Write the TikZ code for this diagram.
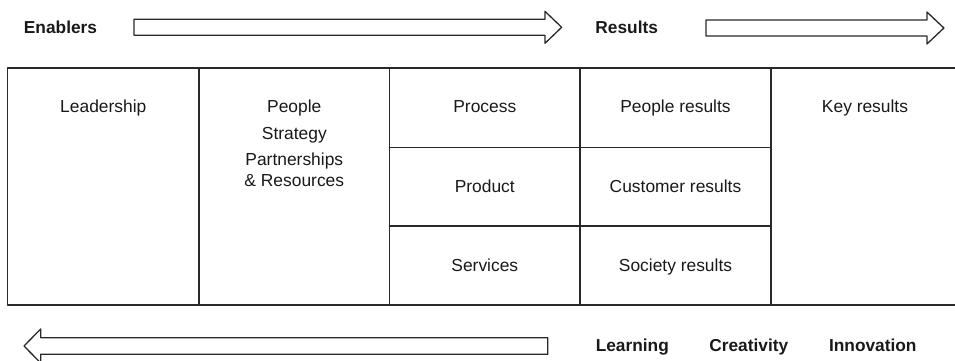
\documentclass[tikz,border=0pt]{standalone}
\usepackage{fontspec}
\setmainfont{Liberation Sans}
\usetikzlibrary{arrows,calc}
\usepackage{tkz-euclide}
\definecolor{LineClr}{rgb}{0.16,0.16,0.16}
\definecolor{TextClr}{rgb}{0.1,0.1,0.1}
\tikzset{
  cell/.style={anchor=base,inner sep=0pt,text=TextClr,font=\fontsize{17.4}{21}\selectfont},
  head/.style={cell,font=\fontsize{17.3}{21}\selectfont\bfseries}
}

\begin{document}
\begin{tikzpicture}[scale=.3514]
\tkzSetUpLine[line width=1.6pt,color=LineClr]

\useasboundingbox (0,0) rectangle (95.5,36.1);
\clip (0,0) rectangle (95.5,36.1);

\tkzDefPoints{0.75/29.3/T1,96/29.3/T2,96/5.6/T3,0.75/5.6/T4}
\tkzDefPoints{19.9/29.3/a1,19.9/5.6/a2,38.95/29.3/b1,38.95/5.6/b2,58/29.3/c1,58/5.6/c2,77.1/29.3/d1,77.1/5.6/d2}
\tkzDefPoints{38.95/21.35/r1,77.1/21.35/r2,38.95/13.5/s1,77.1/13.5/s2}

\tkzDefPoints{13.4/34.17/E1,54.5/34.17/E2,54.5/34.97/E3,56.17/33.37/E4,54.5/31.77/E5,54.5/32.57/E6,13.4/32.57/E7}
\tkzDefPoints{70.6/34.1/K1,92.7/34.1/K2,92.7/34.9/K3,94.4/33.3/K4,92.7/31.7/K5,92.7/32.5/K6,70.6/32.5/K7}
\tkzDefPoints{54.77/2.32/L1,4.07/2.32/L2,4.07/3.2/L3,2.4/1.5/L4,4.07/-0.2/L5,4.07/0.68/L6,54.77/0.68/L7}

\tkzDrawPolygon(T1,T2,T3,T4)
\tkzDrawSegments(a1,a2 b1,b2 c1,c2 d1,d2 r1,r2 s1,s2)

\tkzDrawPolygon[line width=1.3pt](E1,E2,E3,E4,E5,E6,E7)
\tkzDrawPolygon[line width=1.3pt](K1,K2,K3,K4,K5,K6,K7)
\tkzDrawPolygon[line width=1.3pt](L1,L2,L3,L4,L5,L6,L7)

\node[head] (enab) at (6.05,32.78) {Enablers};
\node[head] (res) at (62.67,32.78) {Results};
\node[head] (learn) at (63.23,0.93) {Learning};
\node[head] (creat) at (74.88,0.93) {Creativity};
\node[head] (innov) at (87.28,0.93) {Innovation};

\node[cell] (lead) at (10.33,24.81) {Leadership};
\node[cell] (peop) at (29.43,24.81) {People};
\node[cell] (strat) at (29.43,22.15) {Strategy};
\node[cell] (partn) at (29.43,19.58) {Partnerships};
\node[cell] (resrc) at (29.43,17.48) {\& Resources};
\node[cell] (proc) at (48.48,24.81) {Process};
\node[cell] (prod) at (48.48,16.88) {Product};
\node[cell] (serv) at (48.48,8.93) {Services};
\node[cell] (peopres) at (67.55,24.81) {People results};
\node[cell] (custres) at (67.55,16.88) {Customer results};
\node[cell] (socres) at (67.55,8.93) {Society results};
\node[cell] (keyres) at (86.5,24.81) {Key results};

\end{tikzpicture}
\end{document}
